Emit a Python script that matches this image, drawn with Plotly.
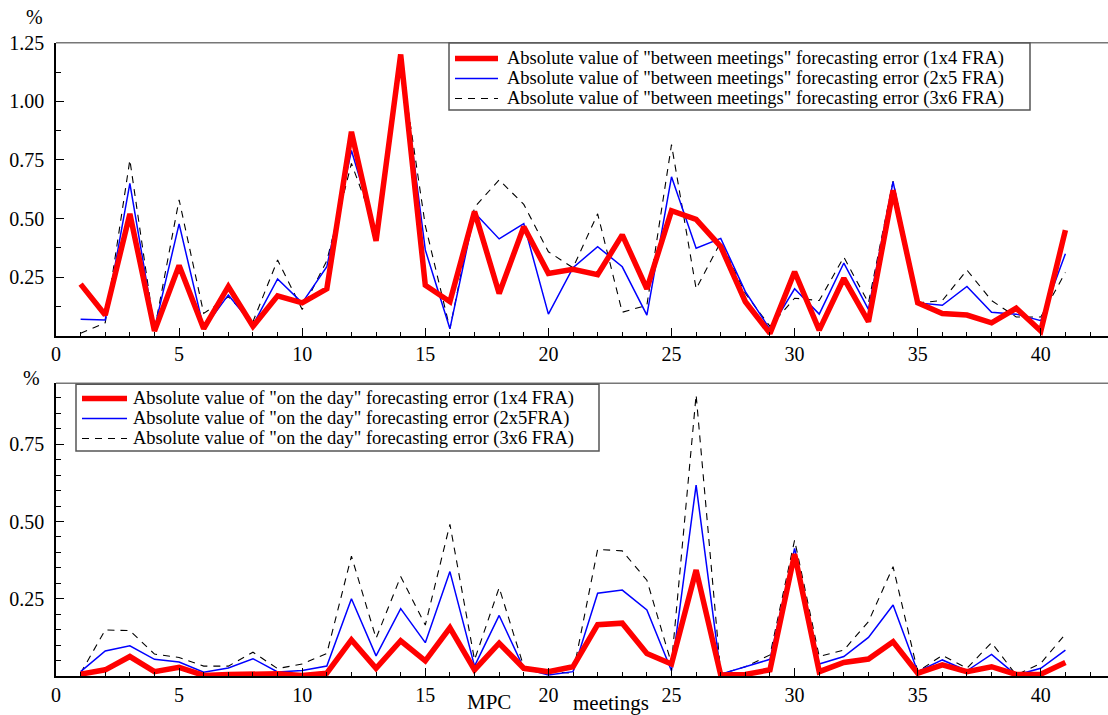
import plotly.graph_objects as go
from plotly.subplots import make_subplots

# ---------------- data ----------------
meetings = list(range(1, 42))

between_1x4 = [0.22, 0.088, 0.52, 0.02, 0.30, 0.03, 0.21, 0.04, 0.17, 0.14,
               0.20, 0.87, 0.405, 1.20, 0.215, 0.145, 0.53, 0.18, 0.465, 0.266,
               0.283, 0.26, 0.43, 0.20, 0.533, 0.496, 0.38, 0.145, 0.01, 0.273,
               0.024, 0.245, 0.06, 0.62, 0.14, 0.095, 0.088, 0.055, 0.117, 0.02,
               0.45]
between_2x5 = [0.07, 0.067, 0.65, 0.03, 0.477, 0.03, 0.174, 0.045, 0.242, 0.14,
               0.294, 0.79, 0.44, 1.19, 0.366, 0.03, 0.525, 0.413, 0.478, 0.092,
               0.29, 0.38, 0.294, 0.088, 0.678, 0.373, 0.415, 0.188, 0.027, 0.20,
               0.092, 0.31, 0.112, 0.657, 0.14, 0.13, 0.21, 0.10, 0.092, 0.064,
               0.35]
between_3x6 = [0.01, 0.055, 0.75, 0.025, 0.58, 0.095, 0.166, 0.06, 0.323, 0.112,
               0.32, 0.735, 0.45, 1.18, 0.47, 0.03, 0.548, 0.665, 0.56, 0.358,
               0.29, 0.52, 0.10, 0.13, 0.815, 0.20, 0.40, 0.18, 0.04, 0.16,
               0.15, 0.335, 0.14, 0.66, 0.14, 0.15, 0.28, 0.15, 0.08, 0.08,
               0.27]

onday_1x4 = [0.006, 0.02, 0.063, 0.014, 0.028, 0.002, 0.005, 0.007, 0.007, 0.002,
             0.009, 0.117, 0.025, 0.114, 0.049, 0.156, 0.02, 0.106, 0.025, 0.014,
             0.03, 0.166, 0.171, 0.073, 0.039, 0.343, 0.003, 0.005, 0.02, 0.395,
             0.014, 0.044, 0.055, 0.111, 0.009, 0.036, 0.014, 0.03, 0.005, 0.006,
             0.044]
onday_2x5 = [0.014, 0.081, 0.098, 0.054, 0.045, 0.012, 0.026, 0.056, 0.013, 0.018,
             0.032, 0.25, 0.065, 0.218, 0.108, 0.338, 0.032, 0.196, 0.025, 0.003,
             0.014, 0.268, 0.278, 0.214, 0.017, 0.618, 0.006, 0.03, 0.054, 0.413,
             0.039, 0.063, 0.125, 0.23, 0.014, 0.052, 0.017, 0.07, 0.003, 0.025,
             0.084]
onday_3x6 = [0.009, 0.149, 0.147, 0.071, 0.06, 0.032, 0.032, 0.077, 0.024, 0.039,
             0.073, 0.388, 0.122, 0.322, 0.165, 0.491, 0.052, 0.286, 0.03, 0.014,
             0.009, 0.41, 0.405, 0.31, 0.04, 0.91, 0.006, 0.03, 0.068, 0.44,
             0.063, 0.084, 0.176, 0.354, 0.014, 0.067, 0.025, 0.108, 0.003, 0.041,
             0.136]

top_legend = ['Absolute value of "between meetings" forecasting error (1x4 FRA)',
              'Absolute value of "between meetings" forecasting error (2x5 FRA)',
              'Absolute value of "between meetings" forecasting error (3x6 FRA)']
bot_legend = ['Absolute value of "on the day" forecasting error (1x4 FRA)',
              'Absolute value of "on the day" forecasting error (2x5FRA)',
              'Absolute value of "on the day" forecasting error (3x6 FRA)']

top_ticks = [0.25, 0.50, 0.75, 1.00, 1.25]
bot_ticks = [0.25, 0.50, 0.75]
x_ticks = [0, 5, 10, 15, 20, 25, 30, 35, 40]

# ---------------- layout geometry ----------------
W, H = 1108, 715
ML = 56
PW = W - ML
FONT = "Liberation Serif, Times New Roman, serif"


def px(x):
    return (x - ML) / PW


def py(y):
    return (H - y) / H


styles = [dict(color="#ff0000", width=5.5),
          dict(color="#0000ff", width=1.5),
          dict(color="#000000", width=1.1, dash="7px,6px")]

fig = make_subplots(rows=2, cols=1)

# dashed first, red last (drawn on top)
for i in (2, 1, 0):
    ys = [between_1x4, between_2x5, between_3x6][i]
    fig.add_trace(go.Scatter(x=meetings, y=ys, mode="lines", name=top_legend[i],
                             line=styles[i], showlegend=False), row=1, col=1)
for i in (2, 1, 0):
    ys = [onday_1x4, onday_2x5, onday_3x6][i]
    fig.add_trace(go.Scatter(x=meetings, y=ys, mode="lines", name=bot_legend[i],
                             line=styles[i], showlegend=False), row=2, col=1)

xcommon = dict(range=[0, PW / 24.62], tickmode="array", tickvals=x_ticks,
               ticktext=[str(v) for v in x_ticks], ticks="inside", ticklen=8,
               tickwidth=1.2, tickcolor="#000", showline=True, linecolor="#000",
               linewidth=1.5, showgrid=False, zeroline=False, automargin=False,
               tickfont=dict(family=FONT, size=20, color="#000"),
               minor=dict(tickmode="linear", tick0=0, dtick=1, ticks="inside",
                          ticklen=4, tickwidth=1, tickcolor="#000"),
               domain=[0, 1])

ycommon = dict(ticks="inside", ticklen=8, tickwidth=1.2, tickcolor="#000",
               showline=True, linecolor="#000", linewidth=1.5,
               showgrid=False, zeroline=False, ticklabelstandoff=6, automargin=False,
               tickfont=dict(family=FONT, size=20, color="#000"))

fig.update_layout(
    template="none",
    width=W, height=H,
    margin=dict(l=ML, r=0, t=0, b=0, pad=0),
    paper_bgcolor="white", plot_bgcolor="white",
    showlegend=False,
    font=dict(family=FONT, color="#000"),
    xaxis=dict(**xcommon),
    xaxis2=dict(**xcommon),
    yaxis=dict(domain=[py(335.7), py(42.7)], range=[0, 1.25],
               tickmode="array", tickvals=top_ticks,
               ticktext=["%.2f" % v for v in top_ticks],
               minor=dict(tickmode="linear", tick0=0, dtick=0.125, ticks="inside",
                          ticklen=5, tickwidth=1, tickcolor="#000"),
               **ycommon),
    yaxis2=dict(domain=[py(676), py(383.3)], range=[0, 0.9475],
                tickmode="array", tickvals=bot_ticks,
                ticktext=["%.2f" % v for v in bot_ticks],
                minor=dict(tickmode="linear", tick0=0, dtick=0.05, ticks="inside",
                           ticklen=5, tickwidth=1, tickcolor="#000"),
                **ycommon),
)

shapes = []
annotations = []

# top borders of both panels (gray)
for ytop in (42.7, 383.3):
    shapes.append(dict(type="line", xref="paper", yref="paper",
                       x0=0, x1=1, y0=py(ytop), y1=py(ytop),
                       line=dict(color="#777", width=1.5)))

# "%" labels
annotations.append(dict(text="%", x=px(34), y=py(17), xref="paper", yref="paper",
                        showarrow=False, xanchor="center", yanchor="middle",
                        font=dict(family=FONT, size=20, color="#000")))
annotations.append(dict(text="%", x=px(31), y=py(378), xref="paper", yref="paper",
                        showarrow=False, xanchor="center", yanchor="middle",
                        font=dict(family=FONT, size=20, color="#000")))

# x axis title words on bottom panel
annotations.append(dict(text="MPC", x=px(489), y=py(702), xref="paper", yref="paper",
                        showarrow=False, xanchor="center", yanchor="middle",
                        font=dict(family=FONT, size=21, color="#000")))
annotations.append(dict(text="meetings", x=px(611), y=py(703), xref="paper", yref="paper",
                        showarrow=False, xanchor="center", yanchor="middle",
                        font=dict(family=FONT, size=21, color="#000")))


def legend_box(x0, x1, y0, y1, sx0, sx1, tx, rows, labels):
    shapes.append(dict(type="rect", xref="paper", yref="paper",
                       x0=px(x0), x1=px(x1), y0=py(y1), y1=py(y0),
                       line=dict(color="#555", width=1.5), fillcolor="white",
                       layer="above"))
    for st, ry, lab in zip(styles, rows, labels):
        ln = dict(color=st["color"], width=st["width"])
        if "dash" in st:
            ln["dash"] = st["dash"]
        shapes.append(dict(type="line", xref="paper", yref="paper",
                           x0=px(sx0), x1=px(sx1), y0=py(ry), y1=py(ry),
                           line=ln, layer="above"))
        annotations.append(dict(text=lab, x=px(tx), y=py(ry), xref="paper", yref="paper",
                                showarrow=False, xanchor="left", yanchor="middle",
                                font=dict(family=FONT, size=18.5, color="#000")))


legend_box(449, 1030, 43, 110, 455, 498, 505, [58.5, 78.5, 98.5], top_legend)
legend_box(76, 599, 384.3, 451, 82, 127, 131, [398.5, 418.5, 438.5], bot_legend)

fig.update_layout(shapes=shapes, annotations=annotations)

fig.write_html("out.html")
